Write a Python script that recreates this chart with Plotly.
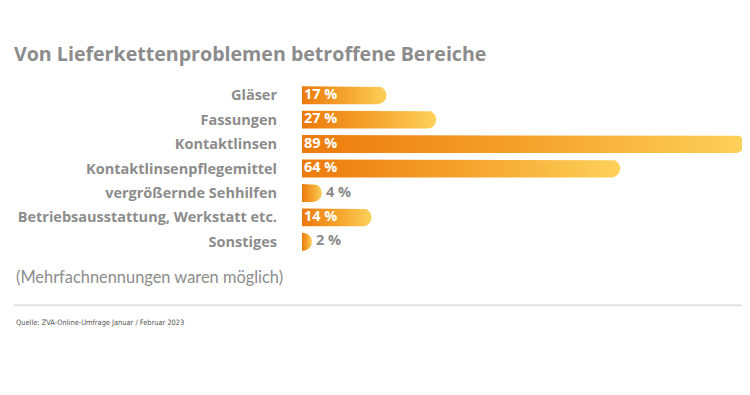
import numpy as np
import plotly.graph_objects as go

categories = ["Gläser", "Fassungen", "Kontaktlinsen", "Kontaktlinsenpflegemittel",
              "vergrößernde Sehhilfen", "Betriebsausstattung, Werkstatt etc.", "Sonstiges"]
values = [17, 27, 89, 64, 4, 14, 2]
labels = ["17 %", "27 %", "89 %", "64 %", "4 %", "14 %", "2 %"]

# page has an 8px body margin -> figure placed at (8, 8)
OX, OY = 8, 8
W, H = 742, 387
L, R, T = 302 - OX, 0, 83 - OY
B = H - (254.5 - OY)
PW, PH = W - L - R, H - T - B
XMAX = 90.1
GRAY = "#8c8c8c"
FONT = "Lato, 'Open Sans', sans-serif"
FONT2 = "'Open Sans', Lato, sans-serif"

xu_per_px = XMAX / PW
row_px = PH / len(categories)
half_h = 9 / row_px  # half bar height in y units

fig = go.Figure()
theta = np.linspace(-np.pi / 2, np.pi / 2, 25)
for i, v in enumerate(values):
    wpx = v / xu_per_px
    rpx = min(9, wpx)
    rx = rpx * xu_per_px
    xs = [0, v - rx] + list(v - rx + rx * np.cos(theta)) + [v - rx, 0, 0]
    ys = [i - half_h, i - half_h] + list(i + half_h * np.sin(theta)) + [i + half_h, i + half_h, i - half_h]
    fig.add_trace(go.Scatter(
        x=xs, y=ys, mode="lines", fill="toself",
        line=dict(width=0, color="rgba(0,0,0,0)"),
        fillgradient=dict(type="horizontal",
                          colorscale=[[0, "#ec7a0c"], [0.55, "#f5a630"], [1, "#fdd15a"]]),
        hoverinfo="skip", showlegend=False))

inside = [v >= 10 for v in values]
fig.add_trace(go.Scatter(
    x=[2 * xu_per_px for v, ins in zip(values, inside) if ins],
    y=[i for i, ins in enumerate(inside) if ins],
    text=[t for t, ins in zip(labels, inside) if ins],
    mode="text", textposition="middle right",
    textfont=dict(family=FONT2, size=14.5, color="white", weight="bold"),
    hoverinfo="skip", showlegend=False))
fig.add_trace(go.Scatter(
    x=[v + 4 * xu_per_px for v, ins in zip(values, inside) if not ins],
    y=[i for i, ins in enumerate(inside) if not ins],
    text=[t for t, ins in zip(labels, inside) if not ins],
    mode="text", textposition="middle right",
    textfont=dict(family=FONT2, size=14.5, color=GRAY, weight="bold"),
    hoverinfo="skip", showlegend=False))

def px_x(p):
    return (p - OX - L) / PW

def px_y(p):
    return (H - B - (p - OY)) / PH

fig.update_layout(
    width=W, height=H,
    margin=dict(l=L, r=R, t=T, b=B),
    paper_bgcolor="white", plot_bgcolor="white",
    xaxis=dict(range=[0, XMAX], visible=False, fixedrange=True),
    yaxis=dict(range=[len(categories) - 0.5, -0.5], tickvals=list(range(len(categories))),
               ticktext=categories, showgrid=False, zeroline=False, showline=False,
               ticks="", ticklabelstandoff=24,
               tickfont=dict(family=FONT2, size=14.5, color=GRAY, weight="bold")),
    title=dict(text="Von Lieferkettenproblemen betroffene Bereiche",
               xref="container", yref="container", x=(14 - OX) / W, xanchor="left",
               y=1 - (54 - OY) / H, yanchor="middle",
               font=dict(family=FONT2, size=19.6, color=GRAY, weight="bold")),
    annotations=[
        dict(text="(Mehrfachnennungen waren möglich)", xref="paper", yref="paper",
             x=px_x(14), y=px_y(277), xanchor="left", yanchor="middle", showarrow=False,
             font=dict(family=FONT, size=16.4, color=GRAY)),
        dict(text="Quelle: ZVA-Online-Umfrage Januar / Februar 2023", xref="paper", yref="paper",
             x=px_x(14), y=px_y(323), xanchor="left", yanchor="middle", showarrow=False,
             font=dict(family="'DejaVu Sans Condensed', Lato, sans-serif", size=7.4, color="#555555")),
    ],
    shapes=[dict(type="line", xref="paper", yref="paper", x0=px_x(14), x1=px_x(750),
                 y0=px_y(306), y1=px_y(306), line=dict(color="#e2e2e2", width=2))],
)

fig.write_html("out.html")
